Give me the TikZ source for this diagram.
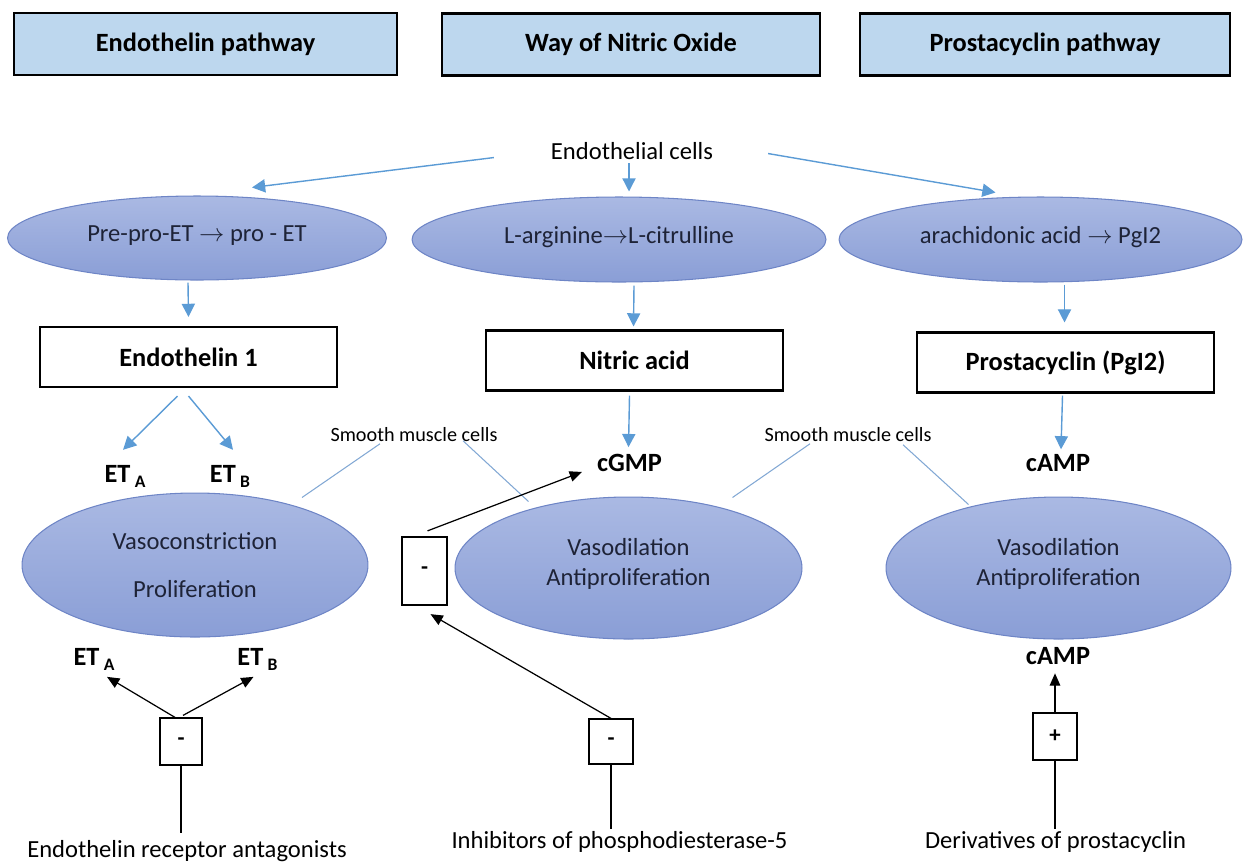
\documentclass[tikz,border=0pt]{standalone}
\usepackage{fontspec}
\setmainfont{Carlito}
\usetikzlibrary{calc, arrows.meta, shapes.geometric}

\definecolor{headfill}{RGB}{189,215,238}
\definecolor{arrblue}{RGB}{91,155,213}
\definecolor{lineblue}{RGB}{130,168,212}
\definecolor{elltop}{RGB}{170,185,227}
\definecolor{ellbot}{RGB}{138,158,214}
\definecolor{elldraw}{RGB}{110,133,198}
\definecolor{elltext}{RGB}{30,35,55}

\newcommand{\setfsz}[2]{\fontsize{#1}{#2}\selectfont}
\newcommand{\ETsub}[1]{ET\,\raisebox{-0.45ex}{\setfsz{10}{12}#1}}

\begin{document}
\begin{tikzpicture}[x=0.02cm, y=-0.02cm,
            headbox/.style={draw, line width=1.3pt, fill=headfill, minimum height=1.24cm, font=\setfsz{15}{18}\bfseries},
            oval/.style={ellipse, draw=elldraw, line width=0.6pt, top color=elltop, bottom color=ellbot, text=elltext, font=\setfsz{14}{17}, align=center, inner sep=0pt},
            prodbox/.style={draw, line width=1.2pt, minimum width=5.94cm, minimum height=1.2cm, font=\setfsz{15}{18}\bfseries},
            signbox/.style={draw, line width=0.7pt, font=\setfsz{13}{15}\bfseries},
            boldtext/.style={font=\setfsz{15}{18}\bfseries, inner sep=1pt, anchor=base},
            plaintext/.style={font=\setfsz{14}{17}, inner sep=1pt, anchor=base},
            smalltext/.style={font=\setfsz{11.5}{14}, inner sep=1pt, anchor=base},
            bluearr/.style={arrblue, line width=0.8pt, -{Triangle[width=7.5pt,length=7.5pt]}},
            blackarr/.style={line width=0.7pt, -{Triangle[width=6pt,length=7pt]}},
            smline/.style={lineblue, line width=0.6pt}]
            \useasboundingbox (0,0) rectangle (1243,863);

            \node[headbox, minimum width=7.66cm] (hEndo) at (205.5,44) {Endothelin pathway};
            \node[headbox, minimum width=7.56cm] (hNO) at (631,44.5) {Way of Nitric Oxide};
            \node[headbox, minimum width=7.4cm] (hPG) at (1045,44.5) {Prostacyclin pathway};

            \node[plaintext] (cells) at (632,159) {Endothelial cells};

            \node[oval, minimum width=7.58cm, minimum height=1.68cm] (ppet) at (197,238) {Pre-pro-ET $\to$ pro - ET\rule[-5pt]{0pt}{0pt}};
            \node[oval, minimum width=8.28cm, minimum height=1.7cm] (larg) at (619,239.5) {L-arginine$\to$L-citrulline\rule[-5pt]{0pt}{0pt}};
            \node[oval, minimum width=8.06cm, minimum height=1.7cm] (arach) at (1040.5,239.5) {arachidonic acid $\to$ PgI2\rule[-5pt]{0pt}{0pt}};

            \node[prodbox] (endo1) at (188.5,357) {Endothelin 1};
            \node[prodbox] (nitric) at (634.5,360.5) {Nitric acid};
            \node[prodbox] (prost) at (1065.5,362.5) {Prostacyclin (PgI2)};

            \node[boldtext] (etA) at (125,482) {\ETsub{A}};
            \node[boldtext] (etB) at (230,482) {\ETsub{B}};
            \node[boldtext] (cgmp) at (629.5,471.5) {cGMP};
            \node[boldtext] (camp) at (1058,471.5) {cAMP};

            \node[smalltext] (sm1) at (414,441.5) {Smooth muscle cells};
            \node[smalltext] (sm2) at (848,441.5) {Smooth muscle cells};

            \node[oval, minimum width=6.92cm, minimum height=2.88cm] (vc) at (195,565) {Vasoconstriction\\[10pt]Proliferation};
            \node[oval, minimum width=6.94cm, minimum height=2.84cm] (vd) at (628.5,568) {Vasodilation\\Antiproliferation\rule[-7pt]{0pt}{0pt}};
            \node[oval, minimum width=6.9cm, minimum height=2.84cm] (vd2) at (1058.5,568) {Vasodilation\\Antiproliferation\rule[-7pt]{0pt}{0pt}};

            \node[signbox, line width=1.3pt, minimum width=0.9cm, minimum height=1.36cm] (negNO) at (424.5,571) {-};

            \node[boldtext] (etA2) at (94,665) {\ETsub{A}};
            \node[boldtext] (etB2) at (257.5,665) {\ETsub{B}};
            \node[boldtext] (camp2) at (1058,664) {cAMP};

            \node[signbox, minimum width=0.84cm, minimum height=0.94cm] (negERA) at (181,741.5) {-};
            \node[signbox, minimum width=0.88cm, minimum height=0.9cm] (negPDE) at (611,741.5) {-};
            \node[signbox, minimum width=0.88cm, minimum height=0.94cm] (negPG) at (1055,736.5) {+};

            \node[plaintext] (era) at (187,857) {Endothelin receptor antagonists};
            \node[plaintext] (pde) at (619.5,848) {Inhibitors of phosphodiesterase-5};
            \node[plaintext] (pgd) at (1055.5,848) {Derivatives of prostacyclin};

            \draw[bluearr] ($(cells.west)+(-55,7)$) -- ($(ppet.north)+(55,-8)$);
            \draw[bluearr] ($(cells.south)+(-3,2)$) -- ($(larg.north)+(10,-5)$);
            \draw[bluearr] ($(cells.east)+(53,3)$) -- ($(arach.north)+(-45,-4)$);

            \draw[bluearr] ($(ppet.south)+(-9,2)$) -- ($(endo1.north)+(0,-9)$);
            \draw[bluearr] ($(larg.south)+(15,3)$) -- ($(nitric.north)+(-1,-3)$);
            \draw[bluearr] ($(arach.south)+(24,2)$) -- ($(prost.north)+(-1,-9)$);

            \draw[bluearr] ($(endo1.south)+(-11,8)$) -- ($(etA.north)+(-2,-13)$);
            \draw[bluearr] ($(endo1.south)+(0,8)$) -- ($(etB.north)+(3,-13)$);
            \draw[bluearr] ($(nitric.south)+(-5,4)$) -- ($(cgmp.north)+(-1,-5)$);
            \draw[bluearr] ($(prost.south)+(-3,2)$) -- ($(camp.north)+(3,-3)$);

            \draw[smline] ($(sm1.south)+(-34,0)$) -- ($(vc.north)+(107,5)$);
            \draw[smline] ($(sm1.south)+(49,-3)$) -- ($(vd.north)+(-100,5)$);
            \draw[smline] ($(sm2.south)+(-38,0)$) -- ($(vd.north)+(104,1)$);
            \draw[smline] ($(sm2.south)+(55,1)$) -- ($(vd2.north)+(-90,8)$);

            \draw[blackarr] ($(negNO.north)+(3,-5)$) -- ($(cgmp.west)+(-13,9)$);
            \draw[blackarr] (negPDE.north) -- ($(negNO.south)+(6,8)$);

            \draw[blackarr] ($(negERA.north)+(-6,0)$) -- ($(etA2.south)+(13,4)$);
            \draw[blackarr] ($(negERA.north)+(2,-2)$) -- ($(etB2.south)+(-4,4)$);
            \draw[blackarr, shorten >=0.14cm] (negPG.north) -- (negPG.north |- camp2.south);

            \draw[line width=0.6pt, shorten >=0.1cm] (negERA.south) -- (negERA.south |- era.north);
            \draw[line width=0.6pt] (negPDE.south) -- (negPDE.south |- pde.north);
            \draw[line width=0.6pt] (negPG.south) -- (negPG.south |- pgd.north);
\end{tikzpicture}
\end{document}
